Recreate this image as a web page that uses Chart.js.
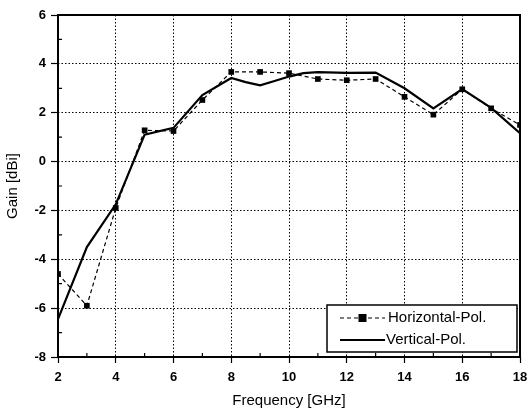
<!DOCTYPE html>
<html>
<head>
<meta charset="utf-8">
<script src="https://cdn.jsdelivr.net/npm/chart.js@4"></script>
<style>
  html, body { margin: 0; padding: 0; background: #fff; }
  #wrap { width: 529px; height: 414px; position: relative; }
</style>
</head>
<body>
<div id="wrap"><canvas id="gainChart"></canvas></div>
<script>
// measured gain vs frequency, two polarisations
const freqH = [2, 3, 4, 5, 6, 7, 8, 9, 10, 11, 12, 13, 14, 15, 16, 17, 18];
const gainH = [-4.6, -5.9, -1.9, 1.28, 1.25, 2.52, 3.67, 3.67, 3.62, 3.38, 3.33, 3.38, 2.65, 1.92, 2.96, 2.18, 1.5];

const freqV = [2, 3, 4, 5, 6, 7, 8, 8.5, 9, 9.5, 10, 10.5, 11, 12, 13, 14, 15, 16, 17, 18];
const gainV = [-6.45, -3.5, -1.75, 1.1, 1.38, 2.72, 3.42, 3.25, 3.12, 3.3, 3.48, 3.62, 3.66, 3.63, 3.64, 3.0, 2.18, 2.97, 2.2, 1.16];

const xTicks = [2, 4, 6, 8, 10, 12, 14, 16, 18];
const yTicks = [-8, -6, -4, -2, 0, 2, 4, 6];

const seriesNames = ['Horizontal-Pol.', 'Vertical-Pol.'];

const toPoints = (xs, ys) => xs.map((x, i) => ({ x: x, y: ys[i] }));

const FONT = "'Liberation Sans', Arial, sans-serif";

// frame, inward minor ticks and the boxed legend
const decorations = {
  id: 'decorations',
  afterDraw(chart) {
    const ctx = chart.ctx;
    const a = chart.chartArea;
    const xs = chart.scales.x, ys = chart.scales.y;
    ctx.save();
    ctx.strokeStyle = '#000';
    ctx.lineWidth = 2;
    ctx.strokeRect(a.left, a.top, a.right - a.left, a.bottom - a.top);

    ctx.lineWidth = 1.2;
    ctx.beginPath();
    for (let v = 3; v < 18; v += 2) {
      const px = xs.getPixelForValue(v);
      ctx.moveTo(px, a.bottom);
      ctx.lineTo(px, a.bottom - 4);
    }
    for (let v = -7; v < 6; v += 2) {
      const py = ys.getPixelForValue(v);
      ctx.moveTo(a.left, py);
      ctx.lineTo(a.left + 4, py);
    }
    ctx.stroke();

    // legend
    const bx = a.right - 193, by = a.bottom - 52, bw = 190, bh = 47;
    ctx.fillStyle = '#fff';
    ctx.fillRect(bx, by, bw, bh);
    ctx.lineWidth = 1.5;
    ctx.strokeRect(bx, by, bw, bh);

    const sx1 = bx + 13, sx2 = bx + 58;
    const r1 = by + 13, r2 = by + 35;
    const dsH = chart.data.datasets[0];
    ctx.lineWidth = dsH.borderWidth;
    ctx.setLineDash(dsH.borderDash);
    ctx.beginPath();
    ctx.moveTo(sx1, r1); ctx.lineTo(sx2, r1);
    ctx.stroke();
    ctx.setLineDash([]);
    ctx.fillStyle = '#000';
    ctx.fillRect((sx1 + sx2) / 2 - 4, r1 - 4, 8, 8);

    const dsV = chart.data.datasets[1];
    ctx.lineWidth = dsV.borderWidth;
    ctx.beginPath();
    ctx.moveTo(sx1, r2); ctx.lineTo(sx2, r2);
    ctx.stroke();

    ctx.font = '15px ' + FONT;
    ctx.textBaseline = 'middle';
    ctx.textAlign = 'left';
    ctx.fillText(seriesNames[0], sx2 + 3, r1);
    ctx.fillText(seriesNames[1], sx2 + 1, r2);
    ctx.restore();
  }
};

new Chart(document.getElementById('gainChart'), {
  type: 'line',
  data: {
    datasets: [
      {
        label: seriesNames[0],
        data: toPoints(freqH, gainH),
        borderColor: '#000',
        backgroundColor: '#000',
        borderWidth: 1.2,
        borderDash: [4, 3],
        pointStyle: 'rect',
        pointRadius: 4,
        pointBorderWidth: 0,
        tension: 0
      },
      {
        label: seriesNames[1],
        data: toPoints(freqV, gainV),
        borderColor: '#000',
        borderWidth: 2.2,
        pointRadius: 0,
        tension: 0
      }
    ]
  },
  options: {
    responsive: true,
    maintainAspectRatio: false,
    animation: false,
    layout: { padding: { top: 15, right: 9, left: 0, bottom: 0 } },
    plugins: {
      legend: { display: false },
      tooltip: { enabled: false }
    },
    scales: {
      x: {
        type: 'linear',
        min: 2,
        max: 18,
        afterFit: s => { s.height = 57; s.paddingLeft = 0; s.paddingRight = 0; },
        afterBuildTicks: s => { s.ticks = xTicks.map(v => ({ value: v })); },
        ticks: {
          color: '#000',
          padding: 7,
          font: { family: FONT, size: 13, weight: 'bold' }
        },
        grid: {
          color: '#000',
          lineWidth: 1,
          tickLength: 6,
          tickColor: '#000',
          tickWidth: 1.2
        },
        border: { display: false, dash: [1.5, 2] },
        title: {
          display: true,
          text: 'Frequency [GHz]',
          color: '#000',
          padding: { top: 0, bottom: 4 },
          font: { family: FONT, size: 15 }
        }
      },
      y: {
        type: 'linear',
        min: -8,
        max: 6,
        afterFit: s => { s.width = 58; s.paddingTop = 0; s.paddingBottom = 0; },
        afterBuildTicks: s => { s.ticks = yTicks.map(v => ({ value: v })); },
        ticks: {
          color: '#000',
          padding: 5,
          font: { family: FONT, size: 13, weight: 'bold' }
        },
        grid: {
          color: '#000',
          lineWidth: 1,
          tickLength: 7,
          tickColor: '#000',
          tickWidth: 1.2
        },
        border: { display: false, dash: [1.5, 2] },
        title: {
          display: true,
          text: 'Gain [dBi]',
          color: '#000',
          padding: { top: 4, bottom: 0 },
          font: { family: FONT, size: 15 }
        }
      }
    }
  },
  plugins: [decorations]
});
</script>
</body>
</html>
